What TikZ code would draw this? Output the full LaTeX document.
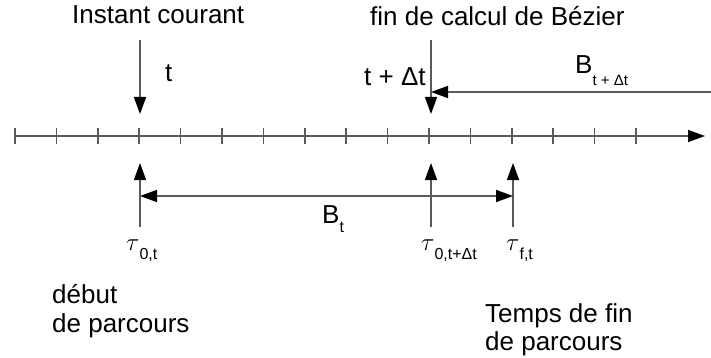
\documentclass[tikz,border=0pt]{standalone}
\usepackage{fontspec}
\setmainfont{Liberation Sans}
\usetikzlibrary{arrows.meta}
\definecolor{linegray}{RGB}{90,90,90}
\begin{document}
\begin{tikzpicture}[x=1pt,y=-1pt,
  ln/.style={draw=linegray,line width=1.5pt},
  tip/.style={-{Triangle[length=17pt,width=12pt,color=black]}},
  lbl/.style={anchor=base west,inner sep=0pt,font=\fontsize{26}{29}\selectfont,text=black},
  taulbl/.style={anchor=base west,inner sep=0pt,text=black}]
\useasboundingbox (0,0) rectangle (711,358);
% axis
\coordinate (ax0) at (15,136);
\coordinate (ax1) at (705,136);
\draw[ln,-{Triangle[length=17pt,width=12pt,color=black]}] (ax0) -- (ax1);
\foreach \k in {0,...,15}{
  \draw[ln] ({15+41.4*\k},128) -- ({15+41.4*\k},144);
}
% top arrows
\coordinate (a1) at (140,40); \coordinate (a1e) at (140,114);
\coordinate (a2) at (431,40); \coordinate (a2e) at (431,114);
\draw[ln,tip] (a1) -- (a1e);
\draw[ln,tip] (a2) -- (a2e);
\coordinate (h1) at (712,92); \coordinate (h1e) at (431,92);
\draw[ln,tip] (h1) -- (h1e);
% bottom arrows
\coordinate (u1) at (140,227); \coordinate (u1e) at (140,163);
\coordinate (u2) at (431,227); \coordinate (u2e) at (431,163);
\coordinate (u3) at (513,227); \coordinate (u3e) at (513,163);
\draw[ln,tip] (u1) -- (u1e);
\draw[ln,tip] (u2) -- (u2e);
\draw[ln,tip] (u3) -- (u3e);
\coordinate (bl) at (140,196); \coordinate (br) at (513,196);
\draw[ln,{Triangle[length=17pt,width=12pt,color=black]}-{Triangle[length=17pt,width=12pt,color=black]}] (bl) -- (br);
% labels
\node[lbl] (inst) at (72,24) {Instant courant};
\node[lbl] (tl) at (165,82) {t};
\node[lbl] (fin) at (370,26) {fin de calcul de Bézier};
\node[lbl] (tdt) at (364,86) {t + Δt};
\node[lbl] (bdt) at (575,74) {B\raisebox{-12pt}{\fontsize{15}{15}\selectfont t + Δt}};
\node[lbl] (bt) at (322,223) {B\raisebox{-9pt}{\fontsize{16}{16}\selectfont t}};
\node[taulbl] (tau1) at (126,250) {\fontsize{24}{24}\selectfont$\tau$\raisebox{-9pt}{\fontsize{16}{16}\selectfont 0,t}};
\node[taulbl] (tau2) at (421,250) {\fontsize{24}{24}\selectfont$\tau$\raisebox{-9pt}{\fontsize{16}{16}\selectfont 0,t+Δt}};
\node[taulbl] (tau3) at (506,250) {\fontsize{24}{24}\selectfont$\tau$\raisebox{-9pt}{\fontsize{16}{16}\selectfont f,t}};
\node[lbl] (deb1) at (52,303) {début};
\node[lbl] (deb2) at (52,332) {de parcours};
\node[lbl] (fp1) at (485,322) {Temps de fin};
\node[lbl] (fp2) at (485,350) {de parcours};
\end{tikzpicture}
\end{document}
